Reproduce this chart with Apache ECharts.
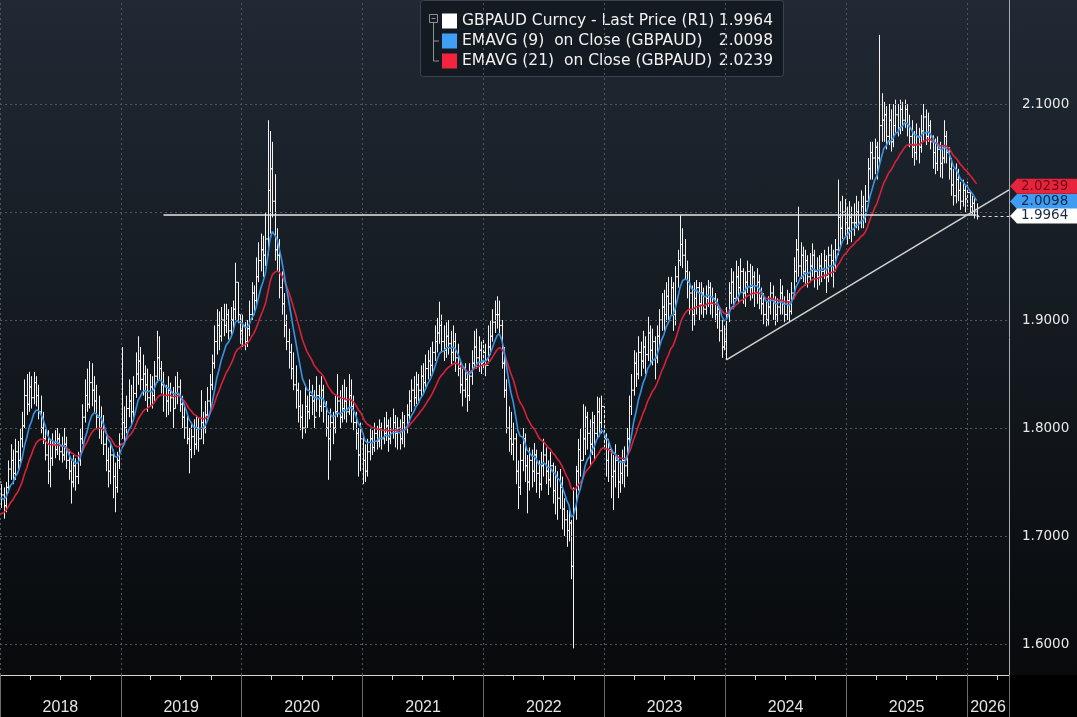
<!DOCTYPE html>
<html>
<head>
<meta charset="utf-8">
<script src="https://cdn.jsdelivr.net/npm/echarts@6/dist/echarts.min.js"></script>
<style>
html,body{margin:0;padding:0;background:#000;}
#chart{width:1077px;height:717px;background:linear-gradient(to bottom,#202934 0px,#141a20 330px,#080a0c 675px,#000 675px,#000 717px);}
</style>
</head>
<body>
<div id="chart"></div>
<script>
// weekly bars, first week ending 2018-01-05
var firstWeek = Date.UTC(2018, 0, 5);
// closes of the last weeks of 2017 (off the left edge, only used to start the averages)
var warmClose = [1.690, 1.688, 1.700, 1.712, 1.722, 1.730, 1.728, 1.742, 1.738, 1.745, 1.735, 1.742, 1.750];

var closes = [
  1.738,1.728,1.745,1.762,1.770,1.758,1.778,1.770,1.790,1.802, //2018
  1.830,1.822,1.838,1.828,1.842,1.830,1.815,1.800,1.790,1.775,
  1.760,1.772,1.785,1.780,1.790,1.778,1.775,1.785,1.770,1.760,
  1.750,1.765,1.755,1.770,1.790,1.810,1.830,1.822,1.842,1.835,
  1.825,1.810,1.800,1.805,1.785,1.770,1.760,1.775,1.755,1.745,
  1.770,1.785,1.805,1.800,1.818,1.825,1.815,1.832,1.850,1.862, //2019
  1.845,1.850,1.840,1.828,1.838,1.830,1.848,1.865,1.855,1.840,
  1.830,1.825,1.835,1.828,1.818,1.830,1.838,1.822,1.810,1.800,
  1.790,1.780,1.792,1.785,1.800,1.790,1.805,1.800,1.812,1.825,
  1.840,1.860,1.880,1.895,1.885,1.900,1.895,1.905,1.890,1.900,
  1.910,1.935,1.905,1.890,1.895,1.880,1.892,1.905,1.925,1.918, //2020
  1.940,1.955,1.965,1.960,1.975,2.020,2.040,2.010,1.965,1.960,
  1.930,1.915,1.895,1.880,1.870,1.855,1.840,1.835,1.820,1.810,
  1.800,1.820,1.815,1.830,1.825,1.810,1.830,1.820,1.835,1.820,
  1.800,1.790,1.805,1.800,1.815,1.825,1.810,1.818,1.825,1.815,
  1.830,1.820,1.805,1.795,1.775,1.790,1.770,1.760,1.778,1.790, //2021
  1.782,1.795,1.788,1.800,1.790,1.795,1.802,1.790,1.798,1.805,
  1.795,1.800,1.790,1.805,1.800,1.812,1.825,1.835,1.828,1.840,
  1.835,1.848,1.842,1.855,1.862,1.858,1.870,1.880,1.888,1.895,
  1.880,1.872,1.885,1.878,1.870,1.880,1.865,1.855,1.840,1.835,
  1.845,1.830,1.848,1.860,1.875,1.865,1.872,1.860,1.870,1.858, //2022
  1.875,1.885,1.898,1.905,1.905,1.895,1.860,1.835,1.800,1.790,
  1.785,1.790,1.760,1.745,1.770,1.790,1.765,1.750,1.770,1.760,
  1.775,1.758,1.748,1.765,1.775,1.760,1.752,1.765,1.742,1.755,
  1.735,1.745,1.725,1.715,1.705,1.712,1.672,1.725,1.760,1.780,
  1.770,1.790,1.810,1.795,1.785,1.805,1.795,1.815,1.805,1.820, //2023
  1.790,1.770,1.780,1.755,1.760,1.770,1.750,1.758,1.770,1.765,
  1.790,1.820,1.835,1.860,1.850,1.870,1.862,1.875,1.868,1.888,
  1.872,1.880,1.865,1.885,1.900,1.912,1.905,1.922,1.915,1.930,
  1.905,1.940,1.955,1.970,1.960,1.945,1.935,1.925,1.905,1.920,
  1.930,1.915,1.925,1.910,1.920,1.930,1.915,1.920,1.905,1.910,
  1.890,1.875,1.880,1.905,1.925,1.935,1.920,1.940,1.930,1.945, //2024
  1.925,1.935,1.945,1.930,1.940,1.925,1.935,1.920,1.915,1.905,
  1.900,1.912,1.925,1.918,1.905,1.912,1.925,1.915,1.905,1.918,
  1.908,1.925,1.945,1.965,1.950,1.960,1.945,1.955,1.940,1.950,
  1.960,1.945,1.940,1.950,1.945,1.955,1.940,1.960,1.955,1.945,
  1.965,1.995,1.985,2.000,1.990,1.985,1.995,1.990,1.990,2.000, //2025
  1.990,2.005,1.995,2.010,2.040,2.055,2.050,2.060,2.050,2.080,
  2.085,2.090,2.070,2.085,2.065,2.080,2.090,2.078,2.095,2.085,
  2.095,2.080,2.070,2.060,2.055,2.070,2.060,2.075,2.088,2.070,
  2.080,2.065,2.055,2.045,2.058,2.045,2.050,2.070,2.055,2.040,
  2.025,2.015,2.030,2.020,2.010,2.020,2.012,2.018,2.005,2.008,
  2.000,1.9964
];
var highs = [
  1.748,1.745,1.750,1.770,1.785,1.780,1.790,1.788,1.800,1.815,
  1.845,1.850,1.852,1.848,1.852,1.848,1.840,1.830,1.815,1.800,
  1.798,1.790,1.795,1.798,1.800,1.795,1.792,1.800,1.792,1.780,
  1.770,1.775,1.772,1.778,1.800,1.822,1.845,1.855,1.862,1.860,
  1.848,1.840,1.830,1.820,1.812,1.795,1.782,1.785,1.780,1.768,
  1.778,1.795,1.875,1.820,1.830,1.845,1.840,1.848,1.870,1.885,
  1.875,1.868,1.858,1.855,1.850,1.848,1.862,1.890,1.885,1.862,
  1.852,1.840,1.848,1.842,1.838,1.848,1.852,1.845,1.830,1.822,
  1.812,1.800,1.805,1.808,1.812,1.810,1.835,1.815,1.825,1.838,
  1.850,1.868,1.895,1.910,1.908,1.912,1.915,1.915,1.910,1.912,
  1.918,1.953,1.935,1.905,1.905,1.898,1.900,1.918,1.935,1.932,
  1.958,1.972,1.980,1.978,2.000,2.085,2.075,2.065,2.035,1.985,
  1.975,1.945,1.925,1.905,1.892,1.878,1.870,1.858,1.842,1.835,
  1.822,1.840,1.830,1.845,1.840,1.835,1.848,1.840,1.848,1.840,
  1.825,1.812,1.818,1.815,1.830,1.850,1.835,1.840,1.845,1.838,
  1.850,1.845,1.830,1.815,1.800,1.805,1.795,1.785,1.790,1.800,
  1.798,1.805,1.802,1.808,1.805,1.810,1.815,1.808,1.810,1.818,
  1.812,1.810,1.808,1.815,1.812,1.822,1.835,1.845,1.848,1.852,
  1.850,1.858,1.860,1.868,1.872,1.875,1.880,1.895,1.902,1.917,
  1.905,1.895,1.898,1.900,1.890,1.895,1.888,1.878,1.862,1.855,
  1.860,1.852,1.860,1.872,1.890,1.892,1.885,1.880,1.882,1.878,
  1.895,1.900,1.910,1.918,1.922,1.918,1.900,1.875,1.845,1.820,
  1.815,1.805,1.795,1.770,1.785,1.800,1.795,1.775,1.782,1.780,
  1.786,1.780,1.770,1.778,1.790,1.782,1.770,1.778,1.768,1.765,
  1.760,1.762,1.755,1.735,1.724,1.728,1.715,1.745,1.765,1.790,
  1.800,1.822,1.820,1.815,1.808,1.815,1.812,1.829,1.828,1.830,
  1.820,1.795,1.790,1.780,1.775,1.785,1.775,1.770,1.780,1.783,
  1.800,1.830,1.850,1.872,1.870,1.885,1.880,1.890,1.885,1.903,
  1.895,1.892,1.885,1.895,1.910,1.925,1.928,1.935,1.940,1.940,
  1.935,1.950,1.965,1.997,1.985,1.975,1.955,1.945,1.932,1.935,
  1.937,1.935,1.935,1.930,1.932,1.937,1.935,1.930,1.925,1.920,
  1.912,1.900,1.895,1.912,1.935,1.948,1.945,1.955,1.950,1.957,
  1.948,1.945,1.955,1.952,1.950,1.945,1.948,1.942,1.930,1.925,
  1.918,1.922,1.935,1.932,1.922,1.920,1.938,1.932,1.922,1.928,
  1.925,1.935,1.958,1.975,2.005,1.972,1.968,1.965,1.960,1.962,
  1.971,1.965,1.958,1.960,1.962,1.965,1.960,1.968,1.970,1.965,
  1.975,2.030,2.010,2.015,2.012,2.005,2.010,2.005,2.008,2.015,
  2.010,2.020,2.015,2.025,2.050,2.065,2.065,2.068,2.065,2.164,
  2.110,2.102,2.098,2.100,2.095,2.100,2.104,2.100,2.104,2.102,
  2.104,2.100,2.090,2.085,2.075,2.082,2.078,2.090,2.100,2.095,
  2.092,2.085,2.071,2.068,2.070,2.065,2.062,2.085,2.075,2.060,
  2.050,2.040,2.045,2.040,2.028,2.030,2.025,2.028,2.020,2.015,
  2.013,2.008
];
var lows = [
  1.726,1.716,1.722,1.740,1.752,1.748,1.752,1.760,1.765,1.782,
  1.800,1.812,1.815,1.818,1.822,1.820,1.808,1.795,1.785,1.770,
  1.748,1.745,1.765,1.772,1.775,1.770,1.768,1.770,1.762,1.752,
  1.730,1.745,1.742,1.748,1.765,1.785,1.805,1.815,1.818,1.820,
  1.815,1.800,1.790,1.785,1.775,1.760,1.745,1.748,1.735,1.722,
  1.740,1.762,1.790,1.785,1.795,1.810,1.802,1.810,1.828,1.840,
  1.835,1.830,1.825,1.815,1.820,1.818,1.825,1.842,1.845,1.832,
  1.815,1.810,1.812,1.815,1.800,1.818,1.822,1.815,1.800,1.790,
  1.785,1.758,1.772,1.775,1.780,1.778,1.790,1.785,1.795,1.808,
  1.815,1.835,1.855,1.868,1.872,1.880,1.885,1.888,1.882,1.885,
  1.890,1.900,1.897,1.878,1.875,1.872,1.875,1.885,1.900,1.905,
  1.915,1.935,1.945,1.940,1.950,1.960,1.980,1.995,1.955,1.945,
  1.920,1.905,1.884,1.872,1.855,1.845,1.835,1.818,1.805,1.798,
  1.790,1.795,1.800,1.808,1.812,1.800,1.815,1.810,1.815,1.805,
  1.792,1.752,1.770,1.785,1.795,1.810,1.800,1.805,1.808,1.805,
  1.812,1.805,1.798,1.780,1.755,1.760,1.748,1.750,1.755,1.770,
  1.775,1.778,1.780,1.782,1.780,1.785,1.788,1.778,1.785,1.790,
  1.782,1.780,1.780,1.785,1.782,1.795,1.805,1.815,1.820,1.822,
  1.825,1.828,1.832,1.838,1.845,1.848,1.850,1.862,1.870,1.878,
  1.870,1.862,1.865,1.868,1.858,1.862,1.852,1.848,1.832,1.820,
  1.828,1.815,1.825,1.840,1.855,1.855,1.852,1.850,1.855,1.848,
  1.860,1.868,1.880,1.888,1.892,1.888,1.855,1.828,1.795,1.778,
  1.775,1.770,1.748,1.725,1.738,1.760,1.750,1.721,1.742,1.745,
  1.750,1.740,1.735,1.742,1.755,1.748,1.738,1.745,1.730,1.720,
  1.715,1.725,1.706,1.700,1.690,1.695,1.660,1.596,1.715,1.742,
  1.755,1.770,1.775,1.780,1.765,1.775,1.770,1.790,1.792,1.795,
  1.782,1.755,1.750,1.735,1.724,1.745,1.735,1.740,1.748,1.745,
  1.755,1.785,1.812,1.830,1.838,1.845,1.848,1.855,1.850,1.862,
  1.860,1.858,1.845,1.860,1.875,1.890,1.888,1.898,1.900,1.905,
  1.890,1.895,1.930,1.950,1.948,1.938,1.920,1.905,1.890,1.895,
  1.905,1.900,1.905,1.902,1.905,1.912,1.905,1.902,1.898,1.892,
  1.880,1.865,1.872,1.863,1.898,1.915,1.910,1.918,1.915,1.925,
  1.915,1.912,1.925,1.918,1.920,1.912,1.915,1.910,1.905,1.896,
  1.894,1.895,1.905,1.900,1.895,1.898,1.905,1.905,1.898,1.900,
  1.898,1.905,1.920,1.935,1.940,1.938,1.935,1.932,1.930,1.935,
  1.940,1.930,1.928,1.932,1.935,1.938,1.925,1.935,1.940,1.930,
  1.945,1.960,1.968,1.975,1.978,1.970,1.975,1.972,1.978,1.985,
  1.983,1.985,1.985,1.990,2.005,2.030,2.030,2.035,2.030,2.045,
  2.065,2.065,2.058,2.062,2.056,2.060,2.072,2.070,2.072,2.075,
  2.078,2.070,2.060,2.050,2.043,2.048,2.045,2.055,2.065,2.062,
  2.065,2.058,2.040,2.035,2.038,2.032,2.031,2.045,2.045,2.030,
  2.015,2.006,2.008,2.010,2.002,2.005,2.000,2.005,2.000,1.998,
  1.994,1.993
];

// values printed in the legend / right-hand tags
var lastPrice = 1.9964, lastEma9 = 2.0098, lastEma21 = 2.0239;
var yTicks = [1.6, 1.7, 1.8, 1.9, 2.0, 2.1];
var yLabelTicks = [1.6, 1.7, 1.8, 1.9, 2.1];
var yearLabels = ['2018', '2019', '2020', '2021', '2022', '2023', '2024', '2025', '2026'];
// drawn studies: flat line and rising support line
var flatLevel = 1.9975, flatStart = Date.UTC(2019, 4, 10);
var trendPts = [[Date.UTC(2024, 0, 5), 1.863], [Date.UTC(2026, 4, 8), 2.0205]];

var xMin = Date.UTC(2018, 0, 1), xMax = Date.UTC(2026, 4, 8);
var WEEK = 7 * 864e5;

// EMA on close
function ema(vals, n) {
  var k = 2 / (n + 1), out = [], prev = vals[0];
  for (var i = 0; i < vals.length; i++) {
    prev = i == 0 ? vals[0] : vals[i] * k + prev * (1 - k);
    out.push(prev);
  }
  return out;
}

var allClose = warmClose.concat(closes);
var allDates = [];
for (var i = 0; i < allClose.length; i++) {
  allDates.push(firstWeek + (i - warmClose.length) * WEEK);
}
var e9 = ema(allClose, 9), e21 = ema(allClose, 21);
var ema9Data = [], ema21Data = [];
for (var i = 0; i < allClose.length; i++) {
  ema9Data.push([allDates[i], e9[i]]);
  ema21Data.push([allDates[i], e21[i]]);
}

var barData = [];
for (var i = 0; i < closes.length; i++) {
  var op = i == 0 ? warmClose[warmClose.length - 1] : closes[i - 1];
  barData.push([firstWeek + i * WEEK, op, highs[i], lows[i], closes[i]]);
}
var lastT = barData[barData.length - 1][0];

// axis ticks (x axis runs on timestamps)
var quarterTicks = [], yearTicks = [], labelPos = [];
for (var y = 2018; y <= 2026; y++) {
  for (var m = 0; m < 12; m += 3) {
    var t = Date.UTC(y, m, 1);
    if (t <= xMax) quarterTicks.push(t);
  }
  yearTicks.push(Date.UTC(y, 0, 1));
  var s = Math.max(Date.UTC(y, 0, 1), xMin), e = Math.min(Date.UTC(y + 1, 0, 1), xMax);
  labelPos.push(Math.round((s + e) / 2));
}
yearTicks.push(xMax);

function yearText(v) {
  for (var i = 0; i < labelPos.length; i++) {
    if (Math.abs(labelPos[i] - v) < 864e5) return yearLabels[i];
  }
  return '';
}

function renderBar(params, api) {
  var t = api.value(0);
  var pO = api.coord([t, api.value(1)]);
  var pH = api.coord([t, api.value(2)]);
  var pL = api.coord([t, api.value(3)]);
  var pC = api.coord([t, api.value(4)]);
  var x = Math.round(pH[0]) + 0.5;
  var st = { stroke: '#f4f4f4', lineWidth: 1 };
  return {
    type: 'group',
    children: [
      { type: 'line', shape: { x1: x, y1: pH[1], x2: x, y2: pL[1] }, style: st },
      { type: 'line', shape: { x1: x - 1.5, y1: pO[1], x2: x, y2: pO[1] }, style: st },
      { type: 'line', shape: { x1: x, y1: pC[1], x2: x + 1.5, y2: pC[1] }, style: st }
    ]
  };
}

var gridLines = [];
yTicks.forEach(function (v) { gridLines.push({ yAxis: v }); });
yearTicks.slice(0, yearTicks.length - 1).forEach(function (t) { gridLines.push({ xAxis: t }); });

// right-hand value tags: label box + small pointer
var tags = [
  { v: lastEma21, bg: '#e8233c', fg: '#6a0c18', line: { color: 'rgba(0,0,0,0)', width: 0 } },
  { v: lastEma9, bg: '#3f9cf0', fg: '#0b2746', line: { color: 'rgba(0,0,0,0)', width: 0 } },
  { v: lastPrice, bg: '#ffffff', fg: '#1b2a40', line: { color: '#e0e0e0', type: [3, 3], width: 1 } }
];
var tagLines = tags.map(function (g) {
  return [
    { coord: [lastT, g.v], lineStyle: g.line,
      label: { show: true, position: 'end', distance: 8, formatter: g.v.toFixed(4),
        backgroundColor: g.bg, color: g.fg, padding: [1, 12, 0, 4], fontSize: 13.5, lineHeight: 14,
        fontFamily: 'DejaVu Sans' } },
    { coord: [xMax, g.v] }
  ];
});
var tagPointers = tags.map(function (g) {
  return { coord: [xMax, g.v], symbol: 'path://M0,5 L7,0 L7,10 Z', symbolSize: [7, 15],
    symbolOffset: [4.5, 0], itemStyle: { color: g.bg }, label: { show: false } };
});

var legendRows = [
  { name: 'GBPAUD Curncy - Last Price (R1)', color: '#ffffff', value: lastPrice },
  { name: 'EMAVG (9)  on Close (GBPAUD)', color: '#3f9ff5', value: lastEma9 },
  { name: 'EMAVG (21)  on Close (GBPAUD)', color: '#f2243f', value: lastEma21 }
];
var legendKids = [
  { type: 'rect', shape: { x: 0.5, y: 0.5, width: 363, height: 76, r: 3 },
    style: { fill: '#141a21', stroke: '#3c434b', lineWidth: 1 } },
  { type: 'rect', shape: { x: 9.5, y: 14.5, width: 8, height: 8 }, style: { fill: 'none', stroke: '#8c9198' } },
  { type: 'line', shape: { x1: 11.5, y1: 18.5, x2: 15.5, y2: 18.5 }, style: { stroke: '#8c9198' } },
  { type: 'line', shape: { x1: 13.5, y1: 23, x2: 13.5, y2: 61 }, style: { stroke: '#8c9198' } },
  { type: 'line', shape: { x1: 13.5, y1: 41, x2: 19, y2: 41 }, style: { stroke: '#8c9198' } },
  { type: 'line', shape: { x1: 13.5, y1: 61, x2: 19, y2: 61 }, style: { stroke: '#8c9198' } }
];
legendRows.forEach(function (r, i) {
  var cy = 21 + 20 * i;
  legendKids.push({ type: 'rect', shape: { x: 22, y: cy - 7.5, width: 15, height: 15 }, style: { fill: r.color } });
  legendKids.push({ type: 'text', x: 42, y: cy,
    style: { text: r.name, fill: '#f2f2f2', font: '15.5px "DejaVu Sans"', verticalAlign: 'middle', align: 'left' } });
  legendKids.push({ type: 'text', x: 353, y: cy,
    style: { text: r.value.toFixed(4), fill: '#f2f2f2', font: '15.5px "DejaVu Sans"', verticalAlign: 'middle', align: 'right' } });
});

var chart = echarts.init(document.getElementById('chart'), null, { renderer: 'canvas' });
var option = {
  backgroundColor: 'transparent',
  animation: false,
  grid: { left: 0, right: 68, top: 0, bottom: 42 },
  xAxis: [{
    type: 'value', min: xMin, max: xMax, position: 'bottom', offset: 0,
    axisLine: { show: true, lineStyle: { color: '#d4d4d4', width: 1 } },
    axisTick: { show: true, customValues: quarterTicks, length: 5, lineStyle: { color: '#d4d4d4' } },
    axisLabel: { show: false },
    splitLine: { show: false }
  }, {
    type: 'value', min: xMin, max: xMax, position: 'bottom', offset: 0,
    axisLine: { show: false },
    axisTick: { show: true, customValues: yearTicks, length: 42, lineStyle: { color: '#6c6c6c' } },
    axisLabel: {
      show: true, customValues: labelPos, margin: 25, color: '#e4e4e4', fontSize: 16,
      fontFamily: '"Liberation Sans",Arial,sans-serif', hideOverlap: false,
      formatter: function (v) { return yearText(v); }
    },
    splitLine: { show: false }
  }],
  yAxis: {
    type: 'value', position: 'right', min: 1.5713, max: 2.1963,
    axisLine: { show: true, lineStyle: { color: '#a8acb0' } },
    axisTick: { show: false },
    axisLabel: {
      customValues: yLabelTicks, margin: 13, color: '#e8e8e8', fontSize: 13.5, fontFamily: 'DejaVu Sans',
      formatter: function (v) { return v.toFixed(4); }
    },
    splitLine: { show: false }
  },
  graphic: [{ type: 'group', left: 420, top: 0, z: 100, children: legendKids }],
  series: [{
    name: 'grid', type: 'line', data: [[barData[0][0], closes[0]]], showSymbol: false,
    lineStyle: { opacity: 0 }, z: 1, silent: true,
    markLine: { silent: true, symbol: ['none', 'none'], label: { show: false }, animation: false,
      lineStyle: { color: '#4f565e', type: [2, 3], width: 1 }, data: gridLines }
  }, {
    name: 'GBPAUD', type: 'custom', renderItem: renderBar, data: barData, clip: true, z: 2,
    encode: { x: 0, y: [1, 2, 3, 4] }
  }, {
    name: 'EMAVG (21)', type: 'line', data: ema21Data, showSymbol: false, z: 3,
    lineStyle: { color: '#db2039', width: 1.6 }
  }, {
    name: 'EMAVG (9)', type: 'line', data: ema9Data, showSymbol: false, z: 4,
    lineStyle: { color: '#3a92e6', width: 1.6 }
  }, {
    name: 'trend', type: 'line', data: trendPts, showSymbol: false, z: 5,
    lineStyle: { color: '#d2d2d2', width: 1.5 },
    markLine: { silent: true, symbol: ['none', 'none'], label: { show: false }, animation: false,
      lineStyle: { color: '#e6e6e6', type: 'solid', width: 1.5 },
      data: [[{ coord: [flatStart, flatLevel] }, { coord: [lastT, flatLevel] }]] }
  }, {
    name: 'tags', type: 'line', data: [[lastT, lastPrice]], showSymbol: false, clip: false, z: 6,
    lineStyle: { opacity: 0 },
    markLine: { silent: true, symbol: ['none', 'none'], animation: false, data: tagLines },
    markPoint: { silent: true, animation: false, data: tagPointers }
  }]
};
chart.setOption(option);
</script>
</body>
</html>
